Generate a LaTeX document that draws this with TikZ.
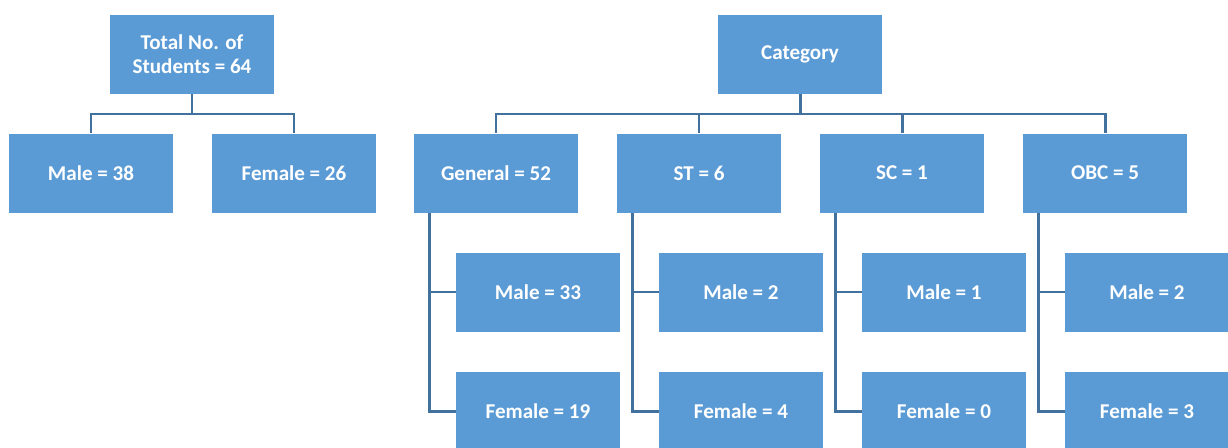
\documentclass[tikz,border=0pt]{standalone}
\usepackage{fontspec}
\setmainfont{Carlito}
\usetikzlibrary{positioning}
\definecolor{boxblue}{HTML}{5B9BD5}
\definecolor{linkblue}{HTML}{41719C}
\begin{document}
\begin{tikzpicture}[x=0.02cm,y=-0.02cm,
    cell/.style={fill=boxblue,draw=white,line width=0.4pt,text=white,
      font=\fontsize{12}{13.8}\selectfont\bfseries,align=center,
      minimum width=3.3cm,minimum height=1.6cm,inner sep=0pt,outer sep=0pt},
    link/.style={draw=linkblue,line width=1.7pt}]
  \useasboundingbox (0,0) rectangle (1228,447);
  \draw
    (192,54) node[cell] (total){Total No. of\\Students = 64}
    (91,173) node[cell] (male){Male = 38}
    (294,173) node[cell] (female){Female = 26}
    (800,54) node[cell] (cat){Category}
    (496,173) node[cell] (gen){General = 52}
    (699,173) node[cell] (st){ST = 6}
    (902,173) node[cell] (sc){SC = 1}
    (1105,173) node[cell] (obc){OBC = 5}
    (538,292) node[cell] (genm){Male = 33}
    (538,411) node[cell] (genf){Female = 19}
    (741,292) node[cell] (stm){Male = 2}
    (741,411) node[cell] (stf){Female = 4}
    (944,292) node[cell] (scm){Male = 1}
    (944,411) node[cell] (scf){Female = 0}
    (1147,292) node[cell] (obcm){Male = 2}
    (1147,411) node[cell] (obcf){Female = 3};
  \begin{scope}[link]
    \draw (total.south) -- ++(0,20) -| (male.north);
    \draw (total.south) -- ++(0,20) -| (female.north);
    \draw (cat.south) -- ++(0,20) -| (gen.north);
    \draw (cat.south) -- ++(0,20) -| (st.north);
    \draw (cat.south) -- ++(0,20) -| (sc.north);
    \draw (cat.south) -- ++(0,20) -| (obc.north);
    \draw ([xshift=0.32cm]gen.south west) |- (genm.west);
    \draw ([xshift=0.32cm]gen.south west) |- (genf.west);
    \draw ([xshift=0.32cm]st.south west) |- (stm.west);
    \draw ([xshift=0.32cm]st.south west) |- (stf.west);
    \draw ([xshift=0.32cm]sc.south west) |- (scm.west);
    \draw ([xshift=0.32cm]sc.south west) |- (scf.west);
    \draw ([xshift=0.32cm]obc.south west) |- (obcm.west);
    \draw ([xshift=0.32cm]obc.south west) |- (obcf.west);
  \end{scope}
\end{tikzpicture}
\end{document}
